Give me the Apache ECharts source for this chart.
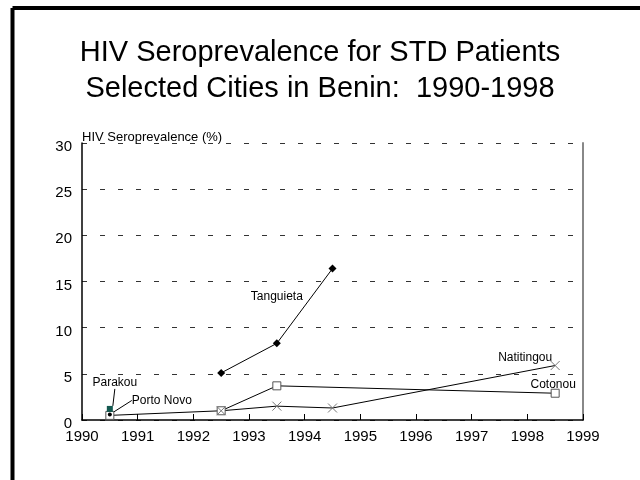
<!DOCTYPE html>
<html>
<head>
<meta charset="utf-8">
<script src="https://cdn.jsdelivr.net/npm/echarts@6/dist/echarts.min.js"></script>
<style>
  html, body { margin: 0; padding: 0; background: #fff; }
  #main { width: 640px; height: 480px; }
</style>
</head>
<body>
<div id="main"></div>
<script>
// data (x = mid-year)
var yearTicks = [1990, 1991, 1992, 1993, 1994, 1995, 1996, 1997, 1998, 1999];
var tanguieta = [[1992.5, 5.1], [1993.5, 8.3], [1994.5, 16.4]];
var cotonou = [[1990.5, 0.5], [1992.5, 1.0], [1993.5, 3.7], [1998.5, 2.9]];
var natitingou = [[1992.5, 1.0], [1993.5, 1.5], [1994.5, 1.3], [1998.5, 5.9]];
var portoNovo = [[1990.5, 0.6]];
var parakou = [[1990.5, 1.2]];

var crossPath = 'path://M0,0L10,10M10,0L0,10';
var fontFam = 'Liberation Sans, Arial, sans-serif';

function cityLabel(text, dx, dy) {
  return {
    show: true,
    position: 'inside',
    formatter: text,
    offset: [dx, dy],
    color: '#000',
    fontSize: 12,
    fontFamily: fontFam
  };
}

var myChart = echarts.init(document.getElementById('main'));
var option = {
  animation: false,
  backgroundColor: '#fff',
  title: {
    text: 'HIV Seroprevalence for STD Patients\nSelected Cities in Benin:  1990-1998',
    left: 'center',
    top: 30,
    textStyle: {
      fontSize: 29,
      fontWeight: 'normal',
      color: '#000',
      fontFamily: fontFam,
      lineHeight: 36
    }
  },
  graphic: [
    { type: 'line', shape: { x1: 12.5, y1: 8, x2: 640, y2: 8 }, style: { stroke: '#000', lineWidth: 4 } },
    { type: 'line', shape: { x1: 12.5, y1: 8, x2: 12.5, y2: 480 }, style: { stroke: '#000', lineWidth: 4 } }
  ],
  grid: { left: 82, right: 57, top: 143, bottom: 60 },
  xAxis: {
    type: 'value',
    min: 1990,
    max: 1999,
    interval: 1,
    axisLine: { show: true, onZero: false, lineStyle: { color: '#000', width: 1.5 } },
    axisTick: { show: true, inside: true, length: 6, lineStyle: { color: '#000' } },
    axisLabel: {
      color: '#000', fontSize: 15, fontFamily: fontFam, margin: 9,
      formatter: function (v) { return yearTicks.indexOf(v) >= 0 ? String(v) : ''; }
    },
    splitLine: { show: false }
  },
  yAxis: [{
    type: 'value',
    min: 0,
    max: 30,
    interval: 5,
    name: 'HIV Seroprevalence (%)',
    nameLocation: 'end',
    nameGap: -1,
    nameTextStyle: { color: '#000', fontSize: 13, fontFamily: fontFam, align: 'left' },
    axisLine: { show: true, lineStyle: { color: '#000', width: 1.5 } },
    axisTick: { show: false },
    axisLabel: { color: '#000', fontSize: 15, fontFamily: fontFam, margin: 10, verticalAlign: 'top', lineHeight: 8 },
    splitLine: { show: true, lineStyle: { color: '#333', type: [5, 13], width: 1 } }
  }, {
    type: 'value',
    position: 'right',
    min: 0,
    max: 30,
    axisLine: { show: true, lineStyle: { color: '#888', width: 2 } },
    axisTick: { show: false },
    axisLabel: { show: false },
    splitLine: { show: false }
  }],
  series: [
    {
      name: 'Tanguieta',
      type: 'line',
      data: tanguieta,
      symbol: 'diamond',
      symbolSize: 8,
      itemStyle: { color: '#000' },
      lineStyle: { color: '#000', width: 1 },
      emphasis: { disabled: true }
    },
    {
      name: 'Cotonou',
      type: 'line',
      data: cotonou,
      symbol: 'rect',
      symbolSize: 8,
      showAllSymbol: true,
      itemStyle: { color: '#fff', borderColor: '#555', borderWidth: 1 },
      lineStyle: { color: '#000', width: 1 },
      emphasis: { disabled: true }
    },
    {
      name: 'Natitingou',
      type: 'line',
      data: natitingou,
      symbol: crossPath,
      symbolSize: 9,
      showAllSymbol: true,
      itemStyle: { color: 'none', borderColor: '#777', borderWidth: 1 },
      lineStyle: { color: '#000', width: 1 },
      emphasis: { disabled: true }
    },
    {
      name: 'Porto Novo',
      type: 'line',
      data: portoNovo,
      symbol: 'circle',
      symbolSize: 4,
      itemStyle: { color: '#000' },
      emphasis: { disabled: true }
    },
    {
      name: 'Parakou',
      type: 'line',
      data: parakou,
      symbol: 'rect',
      symbolSize: 6,
      itemStyle: { color: '#13584f' },
      emphasis: { disabled: true }
    }
  ]
};

// city labels on chosen points
option.series[0].data = tanguieta.map(function (p, i) {
  return i === 1 ? { value: p, label: cityLabel('Tanguieta', 0, -47) } : p;
});
option.series[1].data = cotonou.map(function (p, i) {
  return i === cotonou.length - 1 ? { value: p, label: cityLabel('Cotonou', -2, -9) } : p;
});
option.series[2].data = natitingou.map(function (p, i) {
  return i === natitingou.length - 1 ? { value: p, label: cityLabel('Natitingou', -30, -8) } : p;
});
option.series[3].data = portoNovo.map(function (p) {
  return { value: p, label: { show: true, formatter: 'Porto Novo', color: '#000', fontSize: 12, fontFamily: fontFam } };
});
option.series[3].labelLayout = { dx: 52, dy: -1 };
option.series[3].labelLine = { show: true, lineStyle: { color: '#000', width: 1 } };
option.series[4].data = parakou.map(function (p) {
  return { value: p, label: { show: true, formatter: 'Parakou', color: '#000', fontSize: 12, fontFamily: fontFam } };
});
option.series[4].labelLayout = { dx: 5, dy: -12 };
option.series[4].labelLine = { show: true, lineStyle: { color: '#000', width: 1 } };

myChart.setOption(option);
</script>
</body>
</html>
